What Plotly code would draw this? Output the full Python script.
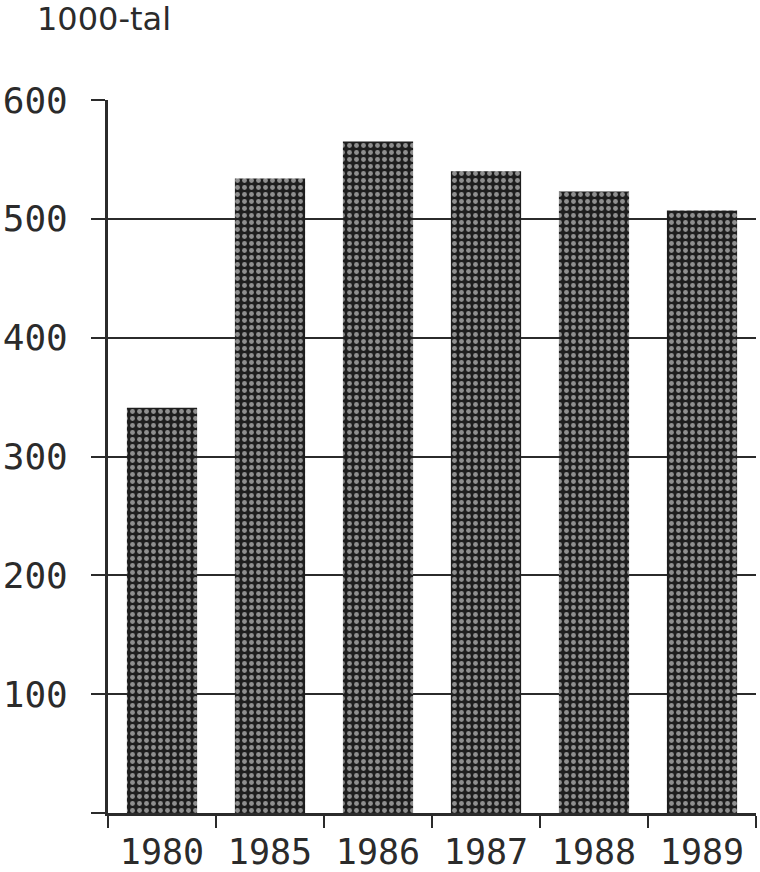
import plotly.graph_objects as go

years = ["1980", "1985", "1986", "1987", "1988", "1989"]
values = [341, 534, 565, 540, 523, 507]
y_ticks = [0, 100, 200, 300, 400, 500, 600]
y_tick_labels = ["", "100", "200", "300", "400", "500", "600"]
unit_label = "1000-tal"

ink = "#2b2b2b"
font_family = "DejaVu Sans Mono"

fig = go.Figure()
fig.add_trace(go.Bar(
    x=years,
    y=values,
    width=0.65,
    marker=dict(
        color="#1e1e1e",
        line=dict(width=0),
        pattern=dict(shape=".", fgcolor="white", bgcolor="#1e1e1e",
                     size=7, solidity=0.38, fillmode="overlay"),
    ),
    showlegend=False,
    hoverinfo="skip",
))

fig.update_layout(
    width=760, height=872,
    margin=dict(l=108, r=4, t=100, b=59, autoexpand=False),
    paper_bgcolor="white", plot_bgcolor="white",
    font=dict(family=font_family, color=ink),
    bargap=0.35,
)

fig.update_xaxes(
    type="category",
    range=[-0.5, 5.5],
    automargin=False,
    showline=True, linecolor=ink, linewidth=3,
    ticks="outside", tickson="boundaries", ticklen=12, tickwidth=2, tickcolor=ink,
    ticklabelstandoff=6,
    tickfont=dict(size=35, family=font_family, color=ink),
    showgrid=False,
)
fig.update_yaxes(
    range=[0, 600],
    automargin=False,
    tickvals=y_ticks, ticktext=y_tick_labels,
    showline=True, linecolor=ink, linewidth=3,
    ticks="outside", ticklen=14, tickwidth=2, tickcolor=ink,
    ticklabelstandoff=16,
    tickfont=dict(size=36, family=font_family, color=ink),
    showgrid=True, gridcolor=ink, gridwidth=2,
    zeroline=False,
)

fig.add_annotation(
    text=unit_label, xref="paper", yref="paper",
    x=-0.113, y=1.113, xanchor="left", yanchor="middle",
    showarrow=False,
    font=dict(size=32, family="DejaVu Sans", color=ink),
)

# remove the default 8px page margin so the figure fills the window exactly
fig.write_html("out.html", config={"displayModeBar": False},
               post_script="document.body.style.margin='0';")
